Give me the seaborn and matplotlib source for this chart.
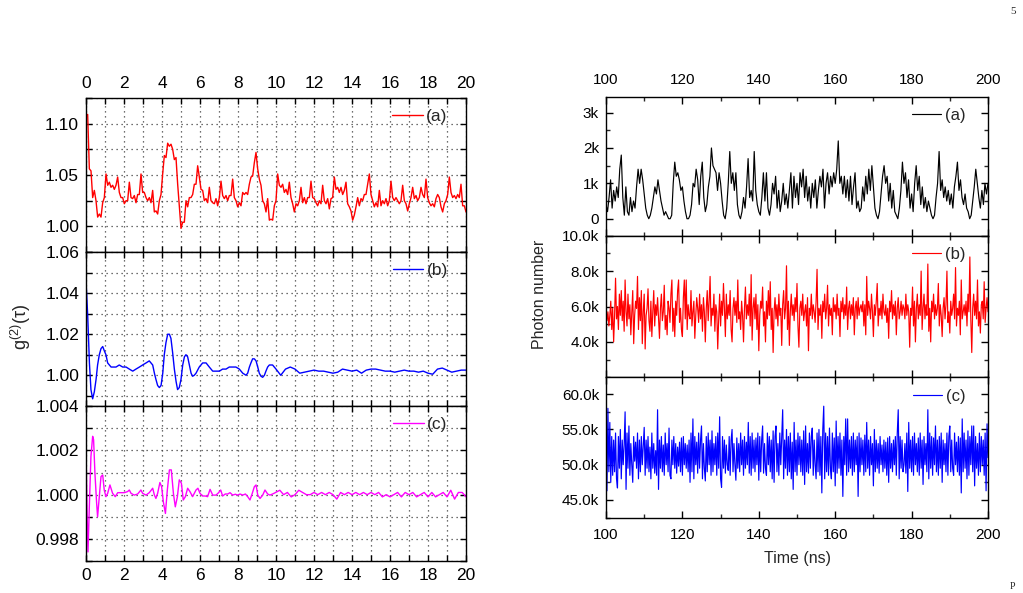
import numpy as np
import matplotlib
matplotlib.use("Agg")
import matplotlib.pyplot as plt
import seaborn as sns
from matplotlib.ticker import MultipleLocator, FuncFormatter

# ---------------- data : left column, g2(tau) ----------------
# (a) evenly sampled over tau = 0 .. 20
g2_a = [1.107, 1.109, 1.056, 1.054, 1.028, 1.035, 1.025, 1.009, 1.012, 1.009,
        1.023, 1.028, 1.051, 1.040, 1.043, 1.038, 1.040, 1.036, 1.040, 1.048,
        1.033, 1.028, 1.028, 1.022, 1.025, 1.025, 1.043, 1.028, 1.027, 1.030,
        1.023, 1.031, 1.031, 1.051, 1.033, 1.033, 1.028, 1.025, 1.028, 1.023,
        1.035, 1.014, 1.015, 1.012, 1.025, 1.031, 1.051, 1.069, 1.067, 1.081,
        1.078, 1.080, 1.075, 1.065, 1.067, 1.041, 1.019, 0.998, 1.004, 1.004,
        1.025, 1.019, 1.028, 1.028, 1.031, 1.041, 1.041, 1.059, 1.048, 1.036,
        1.035, 1.025, 1.027, 1.023, 1.038, 1.025, 1.023, 1.022, 1.027, 1.020,
        1.028, 1.044, 1.030, 1.027, 1.030, 1.025, 1.030, 1.030, 1.046, 1.028,
        1.025, 1.019, 1.023, 1.020, 1.033, 1.031, 1.033, 1.031, 1.041, 1.048,
        1.049, 1.062, 1.072, 1.056, 1.046, 1.040, 1.025, 1.022, 1.014, 1.027,
        1.006, 1.007, 1.006, 1.020, 1.025,
        1.051, 1.040, 1.038, 1.041, 1.033, 1.036, 1.031, 1.043, 1.028, 1.022,
        1.014, 1.022, 1.020, 1.025, 1.038, 1.023, 1.028, 1.022, 1.028, 1.028,
        1.044, 1.028, 1.027, 1.023, 1.020, 1.025, 1.022, 1.040, 1.025, 1.022,
        1.027, 1.017, 1.027, 1.028, 1.048, 1.036, 1.038, 1.033, 1.038, 1.031,
        1.035, 1.043, 1.022, 1.019, 1.015, 1.006, 1.011, 1.019, 1.028, 1.020,
        1.027, 1.025, 1.031, 1.031, 1.041, 1.051, 1.031, 1.025, 1.019, 1.023,
        1.019, 1.035, 1.020, 1.025, 1.022, 1.027, 1.020, 1.025, 1.044, 1.028,
        1.025, 1.028, 1.025, 1.022, 1.025, 1.040, 1.025, 1.022, 1.015, 1.022,
        1.028, 1.038, 1.027, 1.030, 1.025, 1.028, 1.038, 1.031, 1.028, 1.046,
        1.028, 1.023, 1.020, 1.022, 1.019, 1.027, 1.031, 1.028, 1.019, 1.014,
        1.022, 1.025, 1.031, 1.048, 1.033, 1.028, 1.030, 1.027, 1.031, 1.028,
        1.041, 1.020, 1.020, 1.014]

tau_b = [0, 0.09, 0.18, 0.26, 0.35, 0.44, 0.53, 0.61, 0.70, 0.79, 0.88, 0.96,
         1.05, 1.14, 1.23, 1.32, 1.40, 1.58, 1.75, 1.93, 2.11, 2.28, 2.46, 2.63,
         2.81, 2.98, 3.16, 3.33, 3.51, 3.60, 3.68, 3.77, 3.86, 3.95, 4.04, 4.12,
         4.21, 4.30, 4.39, 4.47, 4.56, 4.65, 4.74, 4.82, 4.91, 5.00, 5.09, 5.18,
         5.26, 5.35, 5.44, 5.53, 5.61, 5.70, 5.79, 5.96, 6.14, 6.32, 6.49, 6.67,
         6.84, 7.02, 7.19, 7.37, 7.54, 7.72, 7.89, 8.07, 8.25, 8.42, 8.51, 8.60,
         8.68, 8.77, 8.86, 8.95, 9.04, 9.12, 9.21, 9.30, 9.39, 9.47, 9.56, 9.65,
         9.82,
         10.0, 10.25, 10.5, 10.75, 11.0, 11.25, 11.5, 11.75, 12.0, 12.25, 12.5,
         12.75, 13.0, 13.25, 13.5, 13.75, 14.0, 14.25, 14.5, 14.75, 15.0, 15.25,
         15.5, 15.75, 16.0, 16.25, 16.5, 16.75, 17.0, 17.25, 17.5, 17.75, 18.0,
         18.25, 18.5, 18.75, 19.0, 19.25, 19.5, 19.75, 20.0]
g2_b = [1.046, 1.029, 1.006, 0.993, 0.9885, 0.992, 0.998, 1.005, 1.010, 1.013,
        1.014, 1.012, 1.010, 1.006, 1.005, 1.004, 1.004, 1.004, 1.005, 1.004,
        1.004, 1.003, 1.002, 1.003, 1.004, 1.005, 1.006, 1.007, 1.005, 1.001,
        0.998, 0.995, 0.994, 0.995, 1.001, 1.010, 1.016, 1.020, 1.020, 1.018,
        1.011, 1.003, 0.997, 0.993, 0.994, 0.998, 1.005, 1.009, 1.010, 1.009,
        1.005, 1.001, 0.9995, 1.000, 1.001, 1.004, 1.006, 1.006, 1.004, 1.002,
        1.002, 1.002, 1.003, 1.003, 1.004, 1.004, 1.004, 1.003, 1.001, 1.000,
        1.001, 1.004, 1.006, 1.008, 1.008, 1.007, 1.004, 1.001, 0.9995, 0.999,
        1.000, 1.002, 1.004, 1.005, 1.005,
        1.003, 1.000, 1.003, 1.004, 1.003, 1.001, 1.0015, 1.002, 1.0025, 1.002,
        1.002, 1.0015, 1.001, 1.0015, 1.003, 1.0025, 1.002, 1.0025, 1.001,
        1.0025, 1.003, 1.003, 1.0025, 1.002, 1.002, 1.0015, 1.002, 1.0025,
        1.002, 1.002, 1.0015, 1.002, 1.001, 1.0005, 1.003, 1.0035, 1.0025,
        1.0015, 1.002, 1.0025, 1.0025]

tau_c = [0, 0.05, 0.105, 0.175, 0.26, 0.35, 0.40, 0.47, 0.56, 0.61, 0.70, 0.79,
         0.88, 0.96, 1.05, 1.14, 1.26, 1.40, 1.54, 1.67, 1.84, 2.02, 2.19, 2.28,
         2.37, 2.54, 2.72, 2.89, 2.98, 3.16, 3.33, 3.51, 3.60, 3.68, 3.77, 3.89,
         3.98, 4.07, 4.18, 4.28, 4.39, 4.49, 4.60, 4.70, 4.81, 4.91, 5.02, 5.12,
         5.23, 5.35, 5.47, 5.61, 5.79, 5.89, 6.00, 6.14, 6.28, 6.40, 6.53, 6.67,
         6.84, 6.98, 7.09, 7.19, 7.33, 7.46, 7.58, 7.72, 7.86, 7.98, 8.11, 8.25,
         8.39, 8.51, 8.63, 8.74, 8.86, 8.95, 9.04, 9.16, 9.30, 9.42, 9.56, 9.68,
         9.82, 9.96,
         10.2, 10.4, 10.6, 10.8, 11.0, 11.2, 11.4, 11.6, 11.8, 12.0, 12.2, 12.4,
         12.6, 12.8, 13.0, 13.2, 13.4, 13.6, 13.8, 14.0, 14.2, 14.4, 14.6, 14.8,
         15.0, 15.2, 15.4, 15.6, 15.8, 16.0, 16.2, 16.4, 16.6, 16.8, 17.0, 17.2,
         17.4, 17.6, 17.8, 18.0, 18.2, 18.4, 18.6, 18.8, 19.0, 19.2, 19.4, 19.6,
         19.8, 20.0]
g2_c = [1.00195, 0.99945, 0.99741, 0.99945, 1.00173, 1.00264, 1.00248, 1.00097,
        0.99961, 0.99900, 0.99991, 1.00082, 1.00089, 1.00021, 0.99991, 1.00006,
        1.00044, 1.00006, 0.99991, 1.00009, 1.00009, 1.00009, 1.00014, 1.00021,
        1.00006, 0.99998, 1.00003, 1.00021, 1.00006, 0.99998, 1.00009, 1.00029,
        0.99998, 0.99983, 1.00006, 1.00055, 1.00036, 0.99968, 0.99915, 1.00021,
        1.00112, 1.00112, 1.00006, 0.99945, 0.99991, 1.00067, 1.00052, 0.99976,
        0.99991, 1.00029, 1.00014, 0.99991, 1.00021, 1.00029, 1.00006, 0.99994,
        0.99994, 0.99991, 1.00024, 0.99998, 0.99998, 1.00009, 1.00021, 0.99994,
        1.00003, 1.00003, 1.00009, 0.99998, 1.00002, 0.99998, 1.00003, 0.99998,
        1.00003, 0.99991, 0.99976, 1.00003, 1.00036, 1.00044, 0.99998, 0.99983,
        0.99998, 1.00021, 1.00003, 0.99998, 1.00003, 1.00009,
        1.0002, 1.0000, 1.0001, 0.9999, 1.0000, 1.0002, 1.0001, 1.0000, 1.0000,
        1.0001, 1.0000, 1.0001, 1.0000, 1.0001, 1.0000, 0.9998, 1.0001, 1.0000,
        1.0001, 1.0000, 1.0001, 1.0000, 1.0001, 1.0000, 1.0001, 1.0000, 1.0001,
        0.9999, 1.0000, 0.9999, 1.0000, 1.0001, 0.9999, 1.0001, 1.0000, 1.0001,
        0.9999, 1.0000, 1.0001, 0.9999, 1.0001, 0.9999, 1.0000, 1.0001, 0.9999,
        1.0002, 0.9998, 1.0001, 1.0001, 0.9999]

# ---------------- data : right column, photon number (hundreds) ----------------
# sampled evenly over t = 100 .. 200 ns
pn_a = [4, 2, 6, 11, 3, 8, 5, 9, 6, 14, 18, 6, 1, 9, 2, 1, 6, 2, 5, 3,
        9, 14, 10, 14, 11, 7, 3, 1, 0, 1, 3, 6, 9, 7, 11, 8, 5, 3, 1, 2,
        1, 0, 0, 1, 10, 16, 12, 13, 11, 8, 9, 5, 2, 0, 0, 1, 4, 10, 9, 14,
        11, 4, 12, 16, 6, 2, 4, 9, 12, 20, 15, 14, 13, 8, 13, 10, 5, 1, 0, 3,
        10, 19, 10, 13, 8, 13, 4, 1, 0, 2, 6, 3, 9, 17, 6, 8, 5, 19, 8, 4,
        2, 1, 6, 13, 5, 13, 3, 1, 4, 10, 7, 12, 3, 8, 2, 5, 10, 4, 7, 3,
        8, 13, 3, 12, 6, 10, 4, 13, 9, 14, 6, 12, 5, 9, 3, 10, 6, 11, 3, 8,
        12, 9, 14, 3, 10, 13, 7, 12, 9, 13, 10, 14, 22, 10, 12, 7, 12, 6, 11, 5,
        12, 4, 9, 13, 3, 5, 2, 3, 9, 5, 12, 7, 14, 8, 15, 9, 3, 1, 0, 2,
        7, 12, 15, 10, 12, 5, 10, 3, 8, 2, 1, 0, 3, 8, 16, 10, 13, 6, 11, 3,
        7, 2, 10, 15, 8, 12, 4, 9, 3, 6, 2, 5, 3, 1, 0, 1, 6, 10, 19, 8,
        11, 6, 9, 5, 8, 4, 7, 3, 9, 12, 16, 8, 11, 6, 4, 7, 3, 2, 0, 1,
        5, 9, 14, 10, 6, 3, 8, 4, 10, 7, 10]

pn_b = [59, 52, 57, 49, 55, 63, 47, 59, 40, 55, 76, 53, 60, 47, 67, 55,
        69, 52, 63, 46, 75, 57, 49, 67, 53, 61, 44, 57, 69, 39, 55, 63,
        59, 77, 47, 65, 52, 69, 39, 57, 67, 36, 55, 59, 70, 52, 46, 63,
        43, 57, 69, 49, 61, 55, 65, 53, 42, 59, 67, 52, 57, 72, 47, 55,
        44, 63, 59, 51, 67, 75, 46, 59, 43, 63, 55, 69, 75, 51, 59, 47,
        43, 65, 75, 53, 75, 47, 61, 55, 53, 69, 49, 57, 63, 42, 55, 65,
        59, 51, 67, 53, 61, 46, 65, 57, 40, 59, 69, 52, 63, 77, 49, 59,
        55, 67, 46, 61, 57, 36, 53, 67, 49, 63, 55, 73, 59, 43, 67, 53,
        61, 55, 69, 47, 40, 59, 65, 55, 63, 51, 75, 53, 57, 47, 63, 55,
        40, 59, 71, 53, 61, 55, 67, 49, 78, 41, 59, 65, 53, 67, 47, 61,
        35, 55, 63, 59, 71, 49, 57, 40, 63, 53, 69, 55, 74, 47, 59, 34,
        57, 65, 53, 61, 49, 67, 55, 59, 38, 61, 69, 53, 59, 83, 47, 63,
        38, 57, 67, 55, 61, 52, 65, 57, 73, 49, 37, 59, 63, 55, 67, 52,
        57, 61, 49, 65, 35, 59, 55, 67, 53, 61, 57, 51, 63, 81, 47, 59,
        55, 61, 42, 63, 57, 67, 53, 59, 72, 49, 61, 55, 59, 44, 65, 57,
        61, 53, 67, 55, 59, 43, 63, 57, 65, 53, 61, 55, 71, 47, 59, 63,
        53, 61, 55, 65, 44, 59, 63, 53, 65, 55, 59, 61, 57, 63, 49, 61,
        44, 77, 55, 63, 59, 53, 67, 57, 43, 61, 55, 63, 73, 49, 59, 55,
        63, 53, 67, 57, 55, 61, 51, 59, 42, 63, 57, 69, 53, 61, 55, 63,
        44, 59, 65, 53, 57, 63, 55, 61, 59, 53, 67, 55, 61, 57, 37, 59,
        55, 71, 49, 63, 40, 59, 67, 53, 61, 55, 80, 47, 59, 67, 53, 61,
        55, 84, 46, 59, 40, 63, 57, 67, 53, 61, 55, 59, 73, 49, 61, 55,
        43, 59, 65, 53, 61, 80, 51, 57, 45, 63, 55, 59, 67, 53, 82, 49,
        59, 55, 63, 44, 75, 53, 57, 61, 55, 63, 49, 67, 57, 88, 53, 34,
        59, 67, 55, 63, 53, 75, 49, 57, 45, 61, 63, 53, 74, 51, 59, 65,
        57]

pn_c = [520, 463, 580, 490, 560, 475, 540, 485, 535, 490, 545, 480,
        467, 540, 495, 550, 480, 535, 500, 528, 575, 465, 545, 495,
        555, 485, 530, 500, 475, 540, 505, 532, 495, 545, 480, 535,
        490, 540, 500, 528, 553, 485, 535, 495, 540, 490, 525, 480,
        545, 495, 530, 488, 520, 485, 578, 465, 535, 495, 540, 490,
        528, 485, 545, 500, 530, 490, 552, 485, 480, 535, 500, 540,
        495, 530, 488, 525, 498, 532, 490, 538, 485, 540, 500, 530,
        495, 528, 490, 535, 475, 545, 490, 565, 480, 540, 500, 532,
        488, 545, 495, 535, 555, 480, 530, 495, 477, 540, 490, 545,
        500, 535, 485, 548, 490, 530, 500, 540, 485, 545, 495, 568,
        480, 468, 540, 495, 535, 488, 528, 500, 492, 540, 485, 535,
        550, 490, 530, 500, 478, 538, 495, 530, 490, 545, 500, 535,
        485, 540, 495, 532, 500, 560, 488, 540, 485, 545, 495, 535,
        490, 538, 500, 545, 478, 540, 490, 535, 555, 488, 530, 495,
        485, 545, 500, 540, 490, 535, 480, 548, 475, 540, 555, 490,
        530, 485, 545, 500, 540, 578, 480, 535, 495, 550, 485, 540,
        490, 545, 480, 532, 465, 560, 490, 535, 485, 545, 500, 540,
        490, 535, 485, 548, 472, 555, 490, 530, 488, 545, 495, 540,
        552, 485, 535, 500, 480, 545, 490, 550, 485, 540, 460, 550,
        583, 480, 545, 490, 540, 485, 552, 495, 480, 545, 490, 538,
        470, 562, 488, 540, 495, 545, 485, 535, 455, 540, 500, 565,
        485, 565, 490, 535, 495, 540, 485, 545, 490, 535, 500, 540,
        455, 545, 490, 538, 500, 535, 485, 542, 490, 560, 495, 535,
        485, 540, 500, 530, 470, 550, 490, 535, 495, 530, 488, 540,
        500, 528, 490, 535, 495, 532, 485, 538, 475, 540, 495, 530,
        490, 535, 500, 540, 485, 545, 578, 480, 540, 495, 535, 490,
        500, 530, 488, 545, 462, 560, 495, 535, 490, 540, 485, 545,
        500, 530, 490, 538, 485, 545, 495, 535, 472, 540, 500, 530,
        490, 578, 480, 545, 495, 540, 485, 538, 500, 555, 490, 535,
        485, 540, 495, 545, 475, 535, 500, 530, 490, 545, 485, 540,
        555, 490, 535, 495, 485, 545, 500, 532, 490, 540, 485, 538,
        460, 565, 490, 545, 495, 535, 480, 548, 485, 540, 500, 555,
        490, 555, 470, 540, 495, 530, 485, 545, 490, 540, 500, 535,
        485, 545, 463, 558, 510]

labels = ["(a)", "(b)", "(c)"]
left_colors = ["#ff0000", "#0000ff", "#ff00ff"]
right_colors = ["#000000", "#ff0000", "#0000ff"]

# ---------------- style ----------------
sns.set_style("ticks")
plt.rcParams["font.family"] = ["Liberation Sans", "DejaVu Sans"]
plt.rcParams["mathtext.fontset"] = "custom"
plt.rcParams["mathtext.rm"] = "Liberation Sans"
plt.rcParams["mathtext.it"] = "Liberation Sans"
plt.rcParams["axes.linewidth"] = 1.0
plt.rcParams["axes.edgecolor"] = "black"

W, H = 1023, 593
fig = plt.figure(figsize=(W / 100, H / 100), dpi=100)


def box(x0, y0, x1, y1):
    return [x0 / W, 1 - y1 / H, (x1 - x0) / W, (y1 - y0) / H]


axL = [fig.add_axes(box(86, 98, 466, 252)),
       fig.add_axes(box(86, 252, 466, 406)),
       fig.add_axes(box(86, 406, 466, 561))]
axR = [fig.add_axes(box(606, 96.7, 988, 235.7)),
       fig.add_axes(box(606, 235.7, 988, 377.3)),
       fig.add_axes(box(606, 377.3, 988, 518.3))]

# ---------------- left column ----------------
left_series = [
    (np.linspace(0, 20, len(g2_a)), np.array(g2_a)),
    (np.array(tau_b), np.array(g2_b)),
    (np.array(tau_c), np.array(g2_c)),
]
left_ylims = [(0.975, 1.125), (0.985, 1.0601), (0.997, 1.00401)]
left_major = [[1.00, 1.05, 1.10], [1.00, 1.02, 1.04, 1.06],
              [0.998, 1.000, 1.002, 1.004]]
left_minor = [[0.975, 1.025, 1.075, 1.125], [0.99, 1.01, 1.03, 1.05],
              [0.997, 0.999, 1.001, 1.003]]
left_fmt = ["{:.2f}", "{:.2f}", "{:.3f}"]

for i, ax in enumerate(axL):
    x, y = left_series[i]
    sns.lineplot(x=x, y=y, ax=ax, color=left_colors[i], linewidth=1.0,
                 label=labels[i], estimator=None, sort=False)
    ax.set_xlim(0, 20)
    ax.set_ylim(*left_ylims[i])
    ax.xaxis.set_major_locator(MultipleLocator(2))
    ax.xaxis.set_minor_locator(MultipleLocator(1))
    ax.set_yticks(left_major[i])
    ax.set_yticks(left_minor[i], minor=True)
    ax.set_yticklabels([left_fmt[i].format(v) for v in left_major[i]])
    ax.grid(True, which="both", linestyle=(0, (1, 3)), color="0.25",
            linewidth=0.9)
    ax.tick_params(which="both", direction="in", top=True, right=True,
                   length=4, width=1.0, labelsize=12.5, pad=5, colors="black")
    ax.tick_params(axis="x", labelbottom=(i == 2), labeltop=(i == 0))
    ax.set_xlabel("")
    ax.set_ylabel("")
    ax.legend(loc="upper right", bbox_to_anchor=(0.97, 0.975), borderaxespad=0,
              frameon=False, fontsize=12.5, handlelength=1.75,
              handletextpad=0.2)
    for s in ax.spines.values():
        s.set_visible(True)
        s.set_linewidth(1.0)

# ---------------- right column ----------------
right_vals = [np.array(pn_a) * 100, np.array(pn_b) * 100,
              np.array(pn_c) * 100]
right_ylims = [(-480, 3450), (2000, 10000.5), (42400, 62400)]
right_major = [[0, 1000, 2000, 3000], [4000, 6000, 8000, 10000],
               [45000, 50000, 55000, 60000]]
right_minor = [500, 1000, 2500]
right_fmt = [lambda v, p: "0" if v == 0 else "{:.0f}k".format(v / 1000),
             lambda v, p: "{:.1f}k".format(v / 1000),
             lambda v, p: "{:.1f}k".format(v / 1000)]

for i, ax in enumerate(axR):
    y = right_vals[i]
    t = np.linspace(100, 200, len(y))
    sns.lineplot(x=t, y=y, ax=ax, color=right_colors[i], linewidth=0.85,
                 label=labels[i], estimator=None, sort=False)
    ax.set_xlim(100, 200)
    ax.set_ylim(*right_ylims[i])
    ax.xaxis.set_major_locator(MultipleLocator(20))
    ax.xaxis.set_minor_locator(MultipleLocator(10))
    ax.set_yticks(right_major[i])
    ax.yaxis.set_minor_locator(MultipleLocator(right_minor[i]))
    ax.yaxis.set_major_formatter(FuncFormatter(right_fmt[i]))
    ax.tick_params(which="major", direction="in", top=True, right=True,
                   length=5, width=1.0, labelsize=11, pad=5, colors="black")
    ax.tick_params(which="minor", direction="in", top=True, right=True,
                   length=3, width=1.0)
    ax.tick_params(axis="x", labelbottom=(i == 2), labeltop=(i == 0), pad=7)
    ax.set_xlabel("")
    ax.set_ylabel("")
    ax.grid(False)
    ax.legend(loc="upper right", bbox_to_anchor=(0.958, 0.965),
              borderaxespad=0, frameon=False, fontsize=12,
              handlelength=1.75, handletextpad=0.2)
    for s in ax.spines.values():
        s.set_visible(True)
        s.set_linewidth(1.0)

# ---------------- labels ----------------
fig.text(21 / W, 1 - 327 / H, "g$^{(2)}$(τ)", rotation=90, ha="center",
         va="center", fontsize=13)
fig.text(539 / W, 1 - 294 / H, "Photon number", rotation=90, ha="center",
         va="center", fontsize=11.5)
fig.text(797 / W, 1 - 558.7 / H, "Time (ns)", ha="center", va="center",
         fontsize=11.5)
fig.text(1013 / W, 1 - 12 / H, "5", ha="center", va="center", fontsize=8,
         family="Liberation Serif")
fig.text(1012 / W, 1 - 591 / H, "P", ha="center", va="bottom", fontsize=7,
         family="Liberation Serif")

fig.savefig("out.png", dpi=100)
